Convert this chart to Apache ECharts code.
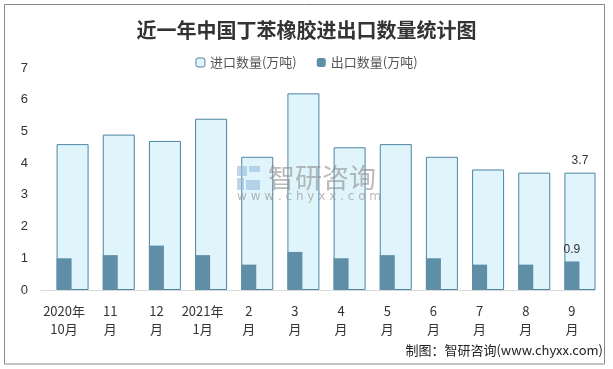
<!DOCTYPE html>
<html><head><meta charset="utf-8">
<script src="https://cdn.jsdelivr.net/npm/echarts@6/dist/echarts.min.js"></script>
<style>html,body{margin:0;padding:0;background:#fff}#c{width:613px;height:369px}</style>
</head><body><div id="c"></div>
<script>
var categories = ['2020年\n10月','11\n月','12\n月','2021年\n1月','2\n月','3\n月','4\n月','5\n月','6\n月','7\n月','8\n月','9\n月'];
var importVals = [4.6,4.9,4.7,5.4,4.2,6.2,4.5,4.6,4.2,3.8,3.7,3.7];
var exportVals = [1.0,1.1,1.4,1.1,0.8,1.2,1.0,1.1,1.0,0.8,0.8,0.9];
var yTicks = [0,1,2,3,4,5,6,7];
var titleText = '近一年中国丁苯橡胶进出口数量统计图';
var sourceText = '制图：智研咨询(www.chyxx.com)';

var chart = echarts.init(document.getElementById('c'), null, {renderer:'canvas'});
var last = categories.length - 1;
function lastLabel(v){ return {show:true, position:'top', distance:6, color:'#333', fontSize:12, fontFamily:'Liberation Sans, Arial, sans-serif', formatter:function(p){return p.dataIndex===last? p.value : '';}}; }
chart.setOption({
  animation:false,
  backgroundColor:'#fff',
  title:{text:titleText, left:'center', top:15, textStyle:{fontSize:20, fontWeight:'bold', color:'#333', fontFamily:'Noto Sans CJK SC'}},
  legend:{top:51, left:'center', itemWidth:9, itemHeight:9, itemGap:20,
    textStyle:{fontSize:13, color:'#555', fontFamily:'Noto Sans CJK SC'},
    data:[{name:'进口数量(万吨)', itemStyle:{color:'#dff4fb', borderColor:'#4f84a2', borderWidth:1}}, {name:'出口数量(万吨)'}]},
  grid:{left:41, right:18, top:68, bottom:79},
  xAxis:{type:'category', data:categories,
    axisLine:{lineStyle:{color:'#d9d9d9', width:1}}, axisTick:{show:false},
    axisLabel:{interval:0, fontSize:13, color:'#333', lineHeight:18, margin:12, fontFamily:'Noto Sans CJK SC'}},
  yAxis:{type:'value', min:yTicks[0], max:yTicks[yTicks.length-1], interval:1,
    splitLine:{show:false}, axisLine:{show:false}, axisTick:{show:false},
    axisLabel:{fontSize:13, color:'#333', margin:13, fontFamily:'Liberation Sans, Arial, sans-serif'}},
  series:[
    {name:'进口数量(万吨)', type:'bar', data:importVals, barWidth:32, barGap:'-100%',
      itemStyle:{color:'#dff4fb', borderColor:'#4f84a2', borderWidth:1}, label:lastLabel(), z:1},
    {name:'出口数量(万吨)', type:'bar', data:exportVals, barWidth:15, barGap:'-100%',
      itemStyle:{color:'#5f8fa6'}, label:lastLabel(), z:2}
  ],
  graphic:[
    {type:'rect', shape:{x:4.5, y:4.5, width:600, height:359.5}, style:{fill:'none', stroke:'#888', lineWidth:1}, silent:true, z:-1},
    {type:'rect', shape:{x:237, y:166, width:10, height:10}, style:{fill:'rgba(150,185,220,0.6)'}, z:10},
    {type:'rect', shape:{x:249, y:166, width:11, height:6}, style:{fill:'rgba(150,185,220,0.6)'}, z:10},
    {type:'rect', shape:{x:237, y:178, width:7, height:12}, style:{fill:'rgba(150,185,220,0.6)'}, z:10},
    {type:'rect', shape:{x:246, y:180, width:14, height:10}, style:{fill:'rgba(150,185,220,0.6)'}, z:10},
    {type:'text', x:268, y:178, style:{text:'智研咨询', fontSize:27, fill:'rgba(140,140,140,0.6)', fontFamily:'Noto Sans CJK SC', textVerticalAlign:'middle'}, z:10},
    {type:'text', x:237, y:197, style:{text:'w w w . c h y x x . c o m', fontSize:12, fill:'rgba(140,140,140,0.6)', fontFamily:'DejaVu Sans', textVerticalAlign:'middle'}, z:10},
    {type:'text', right:10, top:344, style:{text:sourceText, fontSize:13, fill:'#222', fontFamily:'Noto Sans CJK SC'}, z:10}
  ]
});
</script></body></html>
